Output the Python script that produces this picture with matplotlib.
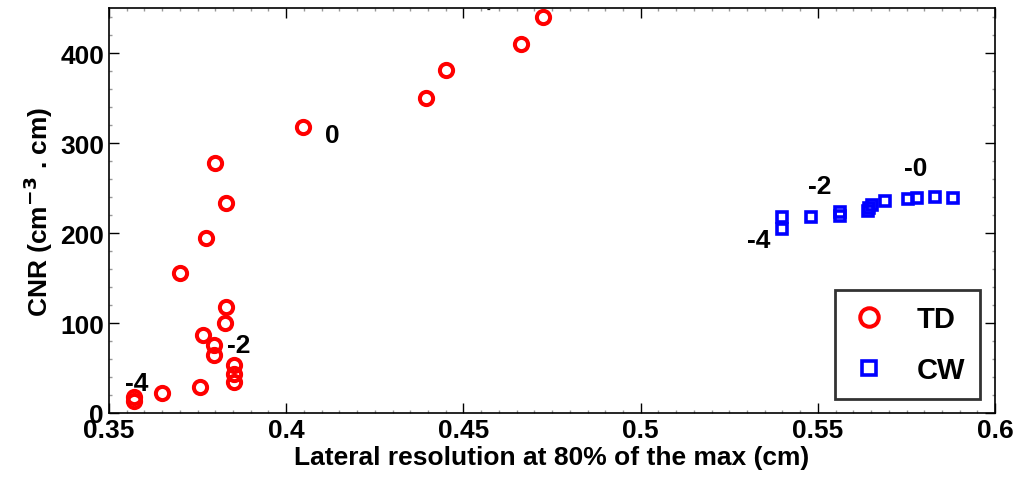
import matplotlib
matplotlib.use('Agg')
import matplotlib.pyplot as plt
from matplotlib.ticker import MultipleLocator

plt.rcParams['font.family'] = ['Liberation Sans', 'DejaVu Sans']
plt.rcParams['font.weight'] = 'bold'

# TD data (red circles)
td_res = [0.4724, 0.4662, 0.4450, 0.4394, 0.4048, 0.3799, 0.3830, 0.3773,
          0.3700, 0.3830, 0.3826, 0.3764, 0.3795, 0.3795, 0.3854, 0.3854,
          0.3854, 0.3757, 0.3649, 0.3570, 0.3570]
td_cnr = [440, 410, 380.6, 349.6, 317.5, 278, 233.3, 195,
          155.4, 117.4, 100, 86.7, 75.6, 64.2, 53.5, 43.2,
          34, 28.4, 22.1, 17.4, 13]

# CW data (blue squares)
cw_res = [0.5400, 0.5400, 0.5480, 0.5562, 0.5562, 0.5641, 0.5645, 0.5652,
          0.5688, 0.5754, 0.5779, 0.5829, 0.5881]
cw_cnr = [217.7, 204.8, 217.8, 223, 219, 225, 228, 231,
          236, 238, 239, 240, 239]

# annotations (text, x, y)
td_labels = [('0', 0.4129, 309), ('-2', 0.3866, 75.6), ('-4', 0.3577, 33)]
cw_labels = [('-0', 0.5777, 272), ('-2', 0.5506, 252.5), ('-4', 0.5332, 192.7)]

fig = plt.figure(figsize=(10.21, 4.85), dpi=100)
ax = fig.add_axes([0.1067, 0.1464, 0.868, 0.835])

ax.plot(td_res, td_cnr, 'o', linestyle='none', markersize=9.5,
        markerfacecolor='none', markeredgecolor='red', markeredgewidth=2.9,
        label='TD')
ax.plot(cw_res, cw_cnr, 's', linestyle='none', markersize=7.4,
        markerfacecolor='none', markeredgecolor='blue', markeredgewidth=2.6,
        label='CW')

for txt, x, y in td_labels + cw_labels:
    ax.text(x, y, txt, fontsize=19, fontweight='bold', ha='center', va='center')

ax.set_xlim(0.35, 0.6)
ax.set_ylim(0, 450)
ax.set_xticks([0.35, 0.4, 0.45, 0.5, 0.55, 0.6])
ax.set_xticklabels(['0.35', '0.4', '0.45', '0.5', '0.55', '0.6'])
ax.set_yticks([0, 100, 200, 300, 400])
ax.yaxis.set_minor_locator(MultipleLocator(20))
ax.xaxis.set_minor_locator(MultipleLocator(0.005))
ax.tick_params(which='both', direction='in', top=True, right=True,
               labelsize=19, width=1)
ax.tick_params(which='major', length=7)
ax.tick_params(which='minor', length=2.5, color='#999999')
for s in ax.spines.values():
    s.set_linewidth(1.2)

ax.set_xlabel('Lateral resolution at 80% of the max (cm)', fontsize=19,
              fontweight='bold', labelpad=2)
ax.set_ylabel('CNR (cm$^{\\mathbf{-3}}$ . cm)', fontsize=19, fontweight='bold',
              labelpad=4)

leg = ax.legend(loc='lower right', bbox_to_anchor=(0.983, 0.035),
                fontsize=21, markerscale=1.4, frameon=True, fancybox=False,
                borderpad=0.5, labelspacing=0.8, handletextpad=1.0,
                handlelength=1.3, borderaxespad=0)
leg.get_frame().set_edgecolor('black')
leg.get_frame().set_linewidth(2)
for t in leg.get_texts():
    t.set_fontweight('bold')

fig.text(0.478, 0.99, '-', fontsize=8, ha='center', va='top')

plt.savefig('out.png', dpi=100)
plt.close()
